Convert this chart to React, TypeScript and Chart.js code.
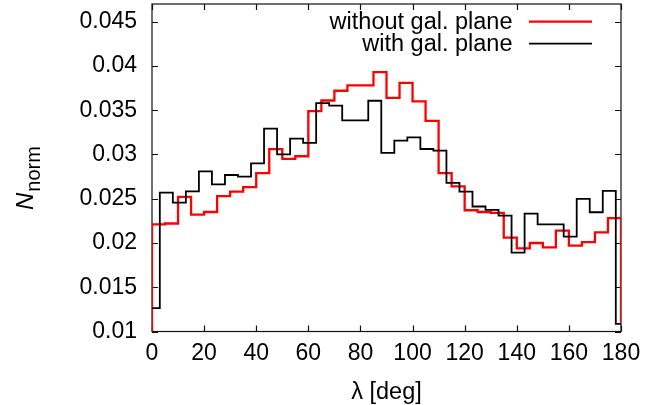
import React, { useEffect, useRef } from "react";
import { Chart, registerables } from "chart.js";

Chart.register(...registerables);

// ---- data ----
const seriesLabels = ["without gal. plane", "with gal. plane"];
const seriesColors = ["#ff0000", "#000000"];

const redEdges = [0, 5, 10, 15, 20, 25, 30, 35, 40, 45, 50, 55, 60, 65, 70, 75, 80, 85, 90, 95, 100, 105, 110, 115, 120, 125, 130, 135, 140, 145, 150, 155, 160, 165, 170, 175, 180];
const redValues = [0.0221, 0.0222, 0.0252, 0.0232, 0.0235, 0.0253, 0.0258, 0.0263, 0.0279, 0.0306, 0.0295, 0.0298, 0.0349, 0.0361, 0.0372, 0.0378, 0.0378, 0.0393, 0.0364, 0.0381, 0.036, 0.0338, 0.0279, 0.0264, 0.0237, 0.0235, 0.0234, 0.0206, 0.0194, 0.02, 0.0195, 0.0214, 0.0197, 0.0201, 0.0212, 0.0228];
// value the red steps start from at 0 deg and end on at 180 deg
const redStartValue = 0.01;
const redEndValue = 0.011;

const blackEdges = [0, 3, 8, 13, 18, 23, 28, 33, 38, 43, 48, 53, 58, 63, 68, 73, 78, 83, 88, 93, 98, 103, 108, 113, 118, 123, 128, 133, 138, 143, 148, 153, 158, 163, 168, 173, 178, 180];
const blackValues = [0.01263, 0.02569, 0.02456, 0.02584, 0.02809, 0.02663, 0.02768, 0.02749, 0.029, 0.03291, 0.03, 0.03178, 0.0313, 0.03581, 0.03551, 0.03385, 0.03385, 0.03607, 0.03017, 0.03156, 0.03193, 0.03062, 0.03043, 0.02678, 0.0258, 0.02412, 0.02373, 0.02309, 0.01892, 0.02332, 0.02211, 0.02211, 0.02072, 0.02498, 0.02347, 0.02588, 0.01087];

const xTicks = [0, 20, 40, 60, 80, 100, 120, 140, 160, 180];
const xTickLabels = ["0", "20", "40", "60", "80", "100", "120", "140", "160", "180"];
const yTicks = [0.01, 0.015, 0.02, 0.025, 0.03, 0.035, 0.04, 0.045];
const yTickLabels = ["0.01", "0.015", "0.02", "0.025", "0.03", "0.035", "0.04", "0.045"];

const xMin = 0;
const xMax = 180;
const yMin = 0.01;
const yMax = 0.047;

const xTitle = "λ [deg]";
const yTitleMain = "N";
const yTitleSub = "norm";

const FONT = "'Liberation Sans', Arial, Helvetica, sans-serif";

function stepPoints(edges: number[], values: number[], startY?: number, endY?: number) {
  const pts: { x: number; y: number }[] = [];
  if (startY !== undefined) pts.push({ x: edges[0], y: startY });
  values.forEach((v, i) => pts.push({ x: edges[i], y: v }));
  pts.push({ x: edges[edges.length - 1], y: endY !== undefined ? endY : values[values.length - 1] });
  return pts;
}

const decorPlugin = {
  id: "decor",
  beforeDatasetsDraw(chart: any) {
    const { ctx, chartArea: a, scales } = chart;
    ctx.save();
    ctx.strokeStyle = "#111";
    ctx.lineWidth = 1.2;
    ctx.strokeRect(a.left, a.top, a.right - a.left, a.bottom - a.top);
    ctx.beginPath();
    const tl = 6;
    xTicks.forEach((v) => {
      const px = Math.round(scales.x.getPixelForValue(v)) + 0.5;
      ctx.moveTo(px, a.bottom);
      ctx.lineTo(px, a.bottom - tl);
      ctx.moveTo(px, a.top);
      ctx.lineTo(px, a.top + tl);
    });
    yTicks.forEach((v) => {
      const py = Math.round(scales.y.getPixelForValue(v)) + 0.5;
      ctx.moveTo(a.left, py);
      ctx.lineTo(a.left + tl, py);
      ctx.moveTo(a.right, py);
      ctx.lineTo(a.right - tl, py);
    });
    ctx.stroke();
    ctx.restore();
  },
  afterDraw(chart: any) {
    const { ctx, chartArea: a } = chart;
    ctx.save();
    // legend
    ctx.font = `23.5px ${FONT}`;
    ctx.textAlign = "right";
    ctx.textBaseline = "alphabetic";
    chart.data.datasets.forEach((ds: any, i: number) => {
      const yb = 28.5 + 22 * i;
      const yl = 21.7 + 22 * i;
      ctx.fillStyle = "#000";
      ctx.fillText(ds.label, 512.5, yb);
      ctx.strokeStyle = ds.borderColor;
      ctx.lineWidth = ds.borderWidth;
      ctx.beginPath();
      ctx.moveTo(529, yl);
      ctx.lineTo(592, yl);
      ctx.stroke();
    });
    // x title
    ctx.textAlign = "center";
    ctx.fillStyle = "#000";
    ctx.font = `23.5px ${FONT}`;
    ctx.fillText(xTitle, (a.left + a.right) / 2, 399);
    // y title (rotated)
    ctx.translate(33, 210);
    ctx.rotate(-Math.PI / 2);
    ctx.textAlign = "left";
    ctx.font = `italic 24px ${FONT}`;
    ctx.fillText(yTitleMain, 0, 0);
    const w = ctx.measureText(yTitleMain).width;
    ctx.font = `20px ${FONT}`;
    ctx.fillText(yTitleSub, w + 1, 7);
    ctx.restore();
  },
};

export default function App() {
  const ref = useRef<HTMLCanvasElement>(null);
  useEffect(() => {
    if (!ref.current) return;
    const chart = new Chart(ref.current, {
      type: "line",
      data: {
        datasets: [
          {
            label: seriesLabels[0],
            data: stepPoints(redEdges, redValues, redStartValue, redEndValue),
            borderColor: seriesColors[0],
            borderWidth: 2.3,
            stepped: "before",
            pointRadius: 0,
            fill: false,
            order: 2,
          },
          {
            label: seriesLabels[1],
            data: stepPoints(blackEdges, blackValues),
            borderColor: seriesColors[1],
            borderWidth: 1.8,
            stepped: "before",
            pointRadius: 0,
            fill: false,
            order: 1,
          },
        ],
      },
      options: {
        animation: false,
        responsive: false,
        devicePixelRatio: 1,
        layout: { padding: { top: 4, right: 25, left: 0, bottom: 0 } },
        plugins: { legend: { display: false }, tooltip: { enabled: false } },
        scales: {
          x: {
            type: "linear",
            min: xMin,
            max: xMax,
            grid: { display: false, drawTicks: false },
            border: { display: false },
            afterBuildTicks: (s: any) => {
              s.ticks = xTicks.map((v) => ({ value: v }));
            },
            afterFit: (s: any) => {
              s.height = 73.5;
              s.paddingLeft = 0;
              s.paddingRight = 0;
              s.paddingTop = 0;
              s.paddingBottom = 0;
            },
            ticks: {
              padding: 8,
              maxRotation: 0,
              autoSkip: false,
              color: "#000",
              font: { family: FONT, size: 23 },
              callback: (_v: any, i: number) => xTickLabels[i],
            },
          },
          y: {
            type: "linear",
            min: yMin,
            max: yMax,
            grid: { display: false, drawTicks: false },
            border: { display: false },
            afterBuildTicks: (s: any) => {
              s.ticks = yTicks.map((v) => ({ value: v }));
            },
            afterFit: (s: any) => {
              s.width = 152;
              s.paddingLeft = 0;
              s.paddingRight = 0;
              s.paddingTop = 0;
              s.paddingBottom = 0;
            },
            ticks: {
              padding: 15,
              autoSkip: false,
              color: "#000",
              font: { family: FONT, size: 23 },
              callback: (_v: any, i: number) => yTickLabels[i],
            },
          },
        },
      },
      plugins: [decorPlugin],
    });
    return () => chart.destroy();
  }, []);
  return (
    <div style={{ position: "fixed", left: 0, top: 0, width: 646, height: 405, background: "#fff" }}>
      <canvas ref={ref} width={646} height={405} />
    </div>
  );
}
